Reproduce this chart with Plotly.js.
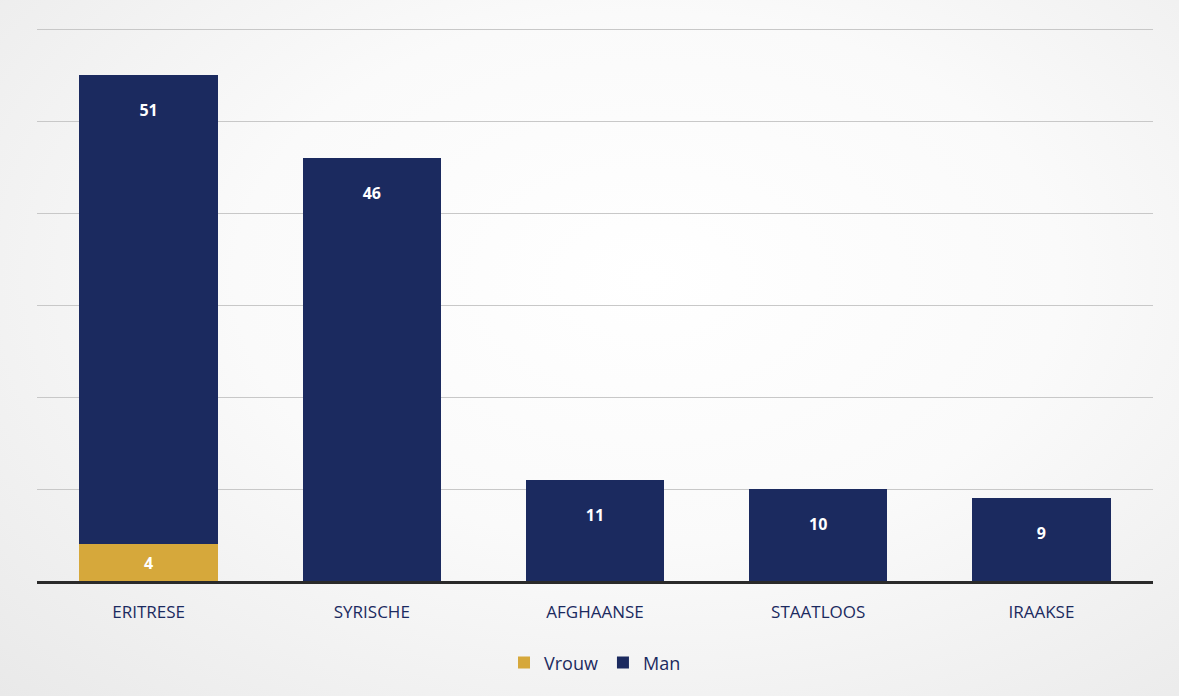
<!DOCTYPE html>
<html>
<head>
<meta charset="utf-8">
<script src="https://cdn.plot.ly/plotly-3.0.1.min.js"></script>
<style>
html,body{margin:0;padding:0;}
body{width:1179px;height:696px;background:radial-gradient(ellipse at 55% 40%, #ffffff 0%, #fafafa 45%, #e9e9e9 100%);}
#chart{width:1179px;height:696px;}
</style>
</head>
<body>
<div id="chart"></div>
<script>
const categories = ["ERITRESE", "SYRISCHE", "AFGHAANSE", "STAATLOOS", "IRAAKSE"];
const vrouw = [4, null, null, null, null];
const man = [51, 46, 11, 10, 9];

const navy = "#1b2a5f";
const gold = "#d6a83b";

const traces = [
  {
    type: "bar", name: "Vrouw", x: categories, y: vrouw,
    marker: {color: gold},
    text: vrouw.map(v => v == null ? "" : String(v)),
    textposition: "inside", insidetextanchor: "middle",
    textfont: {color: "#ffffff", size: 16, family: "Open Sans, sans-serif", weight: "bold"},
    hoverinfo: "skip"
  },
  {
    type: "bar", name: "Man", x: categories, y: man,
    marker: {color: navy},
    text: man.map(v => "\u00a0<br>" + v),
    textposition: "inside", insidetextanchor: "end",
    textfont: {color: "#ffffff", size: 16, family: "Open Sans, sans-serif", weight: "bold"},
    hoverinfo: "skip"
  }
];

const layout = {
  width: 1179, height: 696,
  barmode: "stack", bargap: 0.38,
  paper_bgcolor: "rgba(0,0,0,0)", plot_bgcolor: "rgba(0,0,0,0)",
  margin: {l: 37, r: 26, t: 24, b: 115},
  showlegend: true,
  legend: {orientation: "h", x: 0.5, xanchor: "center", y: -0.147, yanchor: "middle",
           font: {size: 18, color: navy, family: "Open Sans, sans-serif"}, traceorder: "normal",
           itemwidth: 30},
  xaxis: {tickfont: {size: 17, color: navy, family: "Open Sans, sans-serif"},
          showline: true, linecolor: "#2a2a2a", linewidth: 3, ticks: "", showgrid: false,
          ticklabelstandoff: 14},
  yaxis: {range: [0, 60.6], dtick: 10, showticklabels: false, gridcolor: "#c8c8c8", gridwidth: 1,
          zeroline: false, showline: false},
  uniformtext: {mode: "show", minsize: 10}
};

Plotly.newPlot("chart", traces, layout, {displayModeBar: false, staticPlot: true});
</script>
</body>
</html>
